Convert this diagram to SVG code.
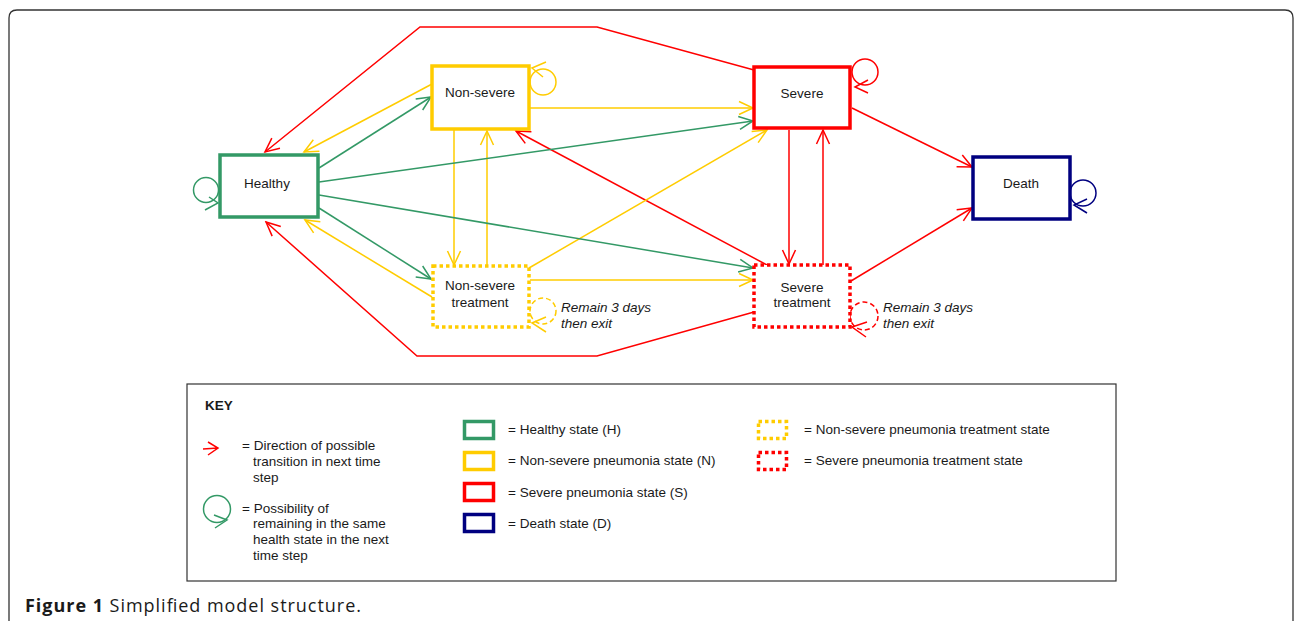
<svg xmlns="http://www.w3.org/2000/svg" width="1295" height="621" viewBox="0 0 1295 621">
<style>
.t{font-family:"Liberation Sans",Arial,sans-serif;font-size:13.5px;fill:#1a1a1a}
.c{text-anchor:middle}
.i{font-family:"Liberation Sans",Arial,sans-serif;font-size:13.5px;font-style:italic;fill:#1a1a1a}
.k{font-family:"Liberation Sans",Arial,sans-serif;font-size:13.5px;fill:#1a1a1a}
.box{fill:#fff;stroke-width:3.5}
.dot{fill:#fff;stroke-width:3.5;stroke-dasharray:3.5 3}
.g{stroke:#339966}.y{stroke:#FFCC00}.r{stroke:#FF0000}.n{stroke:#000080}
.ln{fill:none;stroke-width:1.5}
.ah{fill:none;stroke-width:1.5}
.cap{font-family:"Open Sans","Noto Sans",sans-serif;font-size:18px;fill:#1a1a1a}
</style>
<defs>
<marker id="ar" viewBox="-16 -8 18 16" markerWidth="18" markerHeight="16" refX="0" refY="0" orient="auto" markerUnits="userSpaceOnUse"><path d="M-14,-6.5 L0,0 L-14,6.5" fill="none" stroke="#FF0000" stroke-width="1.5"/></marker>
<marker id="ay" viewBox="-16 -8 18 16" markerWidth="18" markerHeight="16" refX="0" refY="0" orient="auto" markerUnits="userSpaceOnUse"><path d="M-14,-6.5 L0,0 L-14,6.5" fill="none" stroke="#FFCC00" stroke-width="1.5"/></marker>
<marker id="ag" viewBox="-16 -8 18 16" markerWidth="18" markerHeight="16" refX="0" refY="0" orient="auto" markerUnits="userSpaceOnUse"><path d="M-14,-6.5 L0,0 L-14,6.5" fill="none" stroke="#339966" stroke-width="1.5"/></marker>
</defs>
<rect width="1295" height="621" fill="#fff"/>
<path d="M9,630 L9,18 Q9,10 17,10 L1285,10 Q1293,10 1293,18 L1293,630" fill="none" stroke="#333" stroke-width="1.3"/>

<g id="connectors">
<path class="ln r" d="M754,70 L597,27 L420,27 L265,152" marker-end="url(#ar)"/>
<path class="ln r" d="M754,312 L597,356 L417,356 L266,222" marker-end="url(#ar)"/>
<path class="ln r" d="M789,130 L789,264" marker-end="url(#ar)"/>
<path class="ln r" d="M823,265 L823,130" marker-end="url(#ar)"/>
<path class="ln r" d="M767,265 L516,131" marker-end="url(#ar)"/>
<path class="ln r" d="M852,108 L972,167" marker-end="url(#ar)"/>
<path class="ln r" d="M851,281 L972,208" marker-end="url(#ar)"/>
<path class="ln y" d="M432,84 L304,152" marker-end="url(#ay)"/>
<path class="ln y" d="M530,108 L753,108" marker-end="url(#ay)"/>
<path class="ln y" d="M454,130 L454,265" marker-end="url(#ay)"/>
<path class="ln y" d="M487,266 L487,131" marker-end="url(#ay)"/>
<path class="ln y" d="M432,297 L305,220" marker-end="url(#ay)"/>
<path class="ln y" d="M529,268 L767,130" marker-end="url(#ay)"/>
<path class="ln y" d="M530,280 L753,280" marker-end="url(#ay)"/>
<path class="ln g" d="M319,168 L431,97" marker-end="url(#ag)"/>
<path class="ln g" d="M319,182 L753,121" marker-end="url(#ag)"/>
<path class="ln g" d="M319,195 L753,268" marker-end="url(#ag)"/>
<path class="ln g" d="M319,208 L431,279" marker-end="url(#ag)"/>
</g>

<g id="node-healthy">
<circle class="ln g" cx="206" cy="190" r="12.5"/>
<path class="ah g" d="M205,210 L218,203 L209,197"/>
<rect class="box g" x="220" y="155" width="98" height="62"/>
<text class="t c" x="267" y="188">Healthy</text>
</g>
<g id="node-nonsevere">
<circle class="ln y" cx="543" cy="82" r="13"/>
<path class="ah y" d="M546,62 L532,68 L543,77"/>
<rect class="box y" x="432" y="66" width="97" height="63"/>
<text class="t c" x="480" y="97">Non-severe</text>
</g>
<g id="node-severe">
<circle class="ln r" cx="865" cy="72" r="13"/>
<path class="ah r" d="M868,80 L855,87 L868,93"/>
<rect class="box r" x="754" y="67" width="96" height="61"/>
<text class="t c" x="802" y="98">Severe</text>
</g>
<g id="node-death">
<circle class="ln n" cx="1083" cy="193" r="13"/>
<path class="ah n" d="M1087,199 L1074,205 L1087,213"/>
<rect class="box n" x="973" y="157" width="97" height="62"/>
<text class="t c" x="1021" y="188">Death</text>
</g>
<g id="node-nonsevere-treatment">
<circle class="ln y" cx="543" cy="311" r="13" stroke-dasharray="5 3"/>
<path class="ah y" d="M546,317 L532,323 L546,332"/>
<rect class="dot y" x="433" y="266" width="96" height="61"/>
<text class="t c" x="480" y="290">Non-severe</text>
<text class="t c" x="480" y="306.5">treatment</text>
<text class="i" x="561" y="312">Remain 3 days</text>
<text class="i" x="561" y="328">then exit</text>
</g>
<g id="node-severe-treatment">
<circle class="ln r" cx="864" cy="316" r="14" stroke-dasharray="5 3"/>
<path class="ah r" d="M867,322 L852,327 L866,337"/>
<rect class="dot r" x="754" y="265" width="96" height="62"/>
<text class="t c" x="802" y="292">Severe</text>
<text class="t c" x="802" y="307">treatment</text>
<text class="i" x="883" y="312">Remain 3 days</text>
<text class="i" x="883" y="328">then exit</text>
</g>

<g id="key">
<rect x="187" y="384" width="929" height="197" fill="#fff" stroke="#333" stroke-width="1.2"/>
<text class="k" x="205" y="410" font-weight="bold">KEY</text>
<path class="ah r" d="M203,449 L218,448 M208,442 L218,448 L208,455"/>
<text class="k" x="242" y="449.5">= Direction of possible</text>
<text class="k" x="253" y="465.5">transition in next time</text>
<text class="k" x="253" y="481.5">step</text>
<circle class="ln g" cx="217" cy="509" r="13.5"/>
<path class="ah g" d="M214,515 L227,520 L215,528"/>
<text class="k" x="242" y="512.5">= Possibility of</text>
<text class="k" x="253" y="528">remaining in the same</text>
<text class="k" x="253" y="544">health state in the next</text>
<text class="k" x="253" y="560">time step</text>
<rect class="box g" x="464.5" y="421.5" width="29" height="17" stroke-width="3"/>
<rect class="box y" x="464.5" y="452.5" width="29" height="17" stroke-width="3"/>
<rect class="box r" x="464.5" y="483.5" width="29" height="17" stroke-width="3"/>
<rect class="box n" x="464.5" y="514.5" width="29" height="17" stroke-width="3"/>
<text class="k" x="508" y="433.5">= Healthy state (H)</text>
<text class="k" x="508" y="465">= Non-severe pneumonia state (N)</text>
<text class="k" x="508" y="496.5">= Severe pneumonia state (S)</text>
<text class="k" x="508" y="527.5">= Death state (D)</text>
<rect class="dot y" x="758.5" y="421.5" width="28" height="17" stroke-width="3"/>
<rect class="dot r" x="758.5" y="452.5" width="28" height="17" stroke-width="3"/>
<text class="k" x="804" y="433.5">= Non-severe pneumonia treatment state</text>
<text class="k" x="804" y="465">= Severe pneumonia treatment state</text>
</g>

<text class="cap" x="25" y="612" textLength="336"><tspan font-weight="bold">Figure 1</tspan> Simplified model structure.</text>
</svg>
